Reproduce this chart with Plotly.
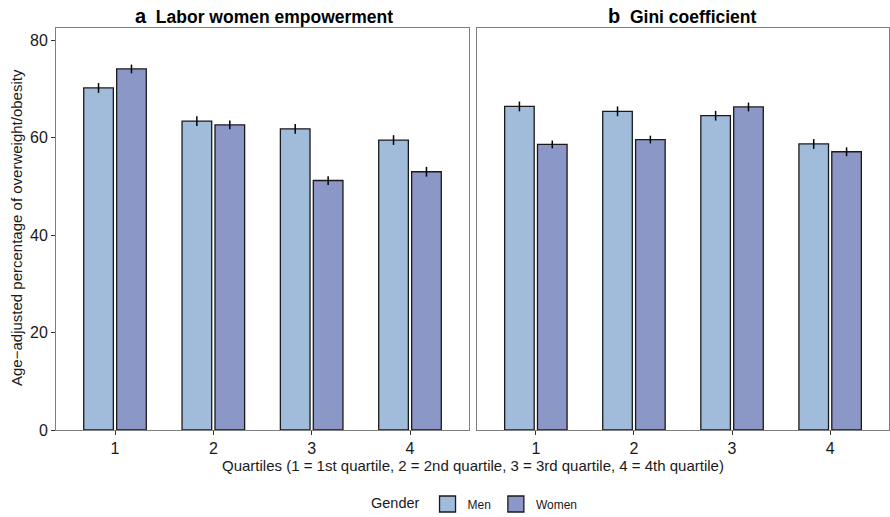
import plotly.graph_objects as go

quartiles = ["1", "2", "3", "4"]
labor_men = [70.2, 63.4, 61.8, 59.5]
labor_women = [74.1, 62.6, 51.2, 53.0]
labor_men_err = [1.0, 1.0, 1.0, 1.0]
labor_women_err = [0.9, 0.9, 0.9, 1.0]
gini_men = [66.4, 65.4, 64.5, 58.7]
gini_women = [58.6, 59.6, 66.3, 57.1]
gini_men_err = [1.0, 1.0, 1.0, 1.0]
gini_women_err = [0.8, 0.8, 0.9, 0.9]

MEN_COLOR = "#A0BCDA"
WOMEN_COLOR = "#8B97C7"
OUTLINE = "#1a1a1a"
W, H = 890, 517
ML, MR, MT, MB = 56, 1, 28, 87
PW = W - ML - MR
PH = H - MT - MB

def px_x(p):
    return (p - ML) / PW

def px_y(p):
    return (H - MB - p) / PH

fig = go.Figure()

def add_bars(xaxis, yaxis, men, women, men_err, women_err):
    for name, vals, err, col in [("Men", men, men_err, MEN_COLOR),
                                 ("Women", women, women_err, WOMEN_COLOR)]:
        fig.add_trace(go.Bar(
            x=[int(q) for q in quartiles], y=vals, name=name,
            marker=dict(color=col, line=dict(color=OUTLINE, width=1.3)),
            error_y=dict(type="data", array=err, visible=True, color="#000000",
                         thickness=1.5, width=0),
            xaxis=xaxis, yaxis=yaxis, showlegend=False, legendgroup=name,
        ))

add_bars("x", "y", labor_men, labor_women, labor_men_err, labor_women_err)
add_bars("x2", "y2", gini_men, gini_women, gini_men_err, gini_women_err)

# legend keys (large square boxes like the reference legend)
for name, col in [("Men", MEN_COLOR), ("Women", WOMEN_COLOR)]:
    fig.add_trace(go.Scatter(
        x=[None], y=[None], mode="markers", name=name, legendgroup=name,
        marker=dict(symbol="square", size=22, color=col,
                    line=dict(color=OUTLINE, width=1.3)),
        xaxis="x", yaxis="y", showlegend=True,
    ))

tickfont = dict(family="Liberation Sans, Arial", size=16, color="#1a1a1a")
common_x = dict(range=[0.4, 4.6], tickvals=[1, 2, 3, 4], ticktext=quartiles,
                showline=True, linecolor="#7f7f7f", linewidth=1, mirror=True,
                ticks="outside", ticklen=4, tickcolor="#333333",
                tickfont=tickfont, showgrid=False, zeroline=False)
common_y = dict(range=[0, 82.5], showline=True, linecolor="#7f7f7f", linewidth=1,
                mirror=True, showgrid=False, zeroline=False, domain=[0, 1])

fig.update_layout(
    width=W, height=H,
    margin=dict(l=ML, r=MR, t=MT, b=MB, autoexpand=False),
    plot_bgcolor="white", paper_bgcolor="white",
    barmode="group", bargap=0.33, bargroupgap=0.1,
    font=dict(family="Liberation Sans, Arial", color="#1a1a1a"),
    xaxis=dict(common_x, domain=[px_x(56), px_x(469)], anchor="y"),
    xaxis2=dict(common_x, domain=[px_x(477), px_x(889)], anchor="y2"),
    yaxis=dict(common_y, anchor="x", tickvals=[0, 20, 40, 60, 80],
               ticks="outside", ticklen=4, tickcolor="#333333", tickfont=tickfont),
    yaxis2=dict(common_y, anchor="x2", showticklabels=False, ticks=""),
    legend=dict(orientation="h", x=px_x(476), xanchor="center", y=px_y(504), yanchor="middle",
                title=dict(text="Gender", font=dict(size=14.5, color="#1a1a1a")),
                font=dict(size=12, color="#1a1a1a"), itemsizing="trace",
                traceorder="normal", itemwidth=30),
    annotations=[
        dict(text="<b><span style='font-size:20px'>a</span>  Labor women empowerment</b>",
             x=px_x(264), y=px_y(16), xref="paper", yref="paper",
             xanchor="center", yanchor="middle",
             showarrow=False, font=dict(size=17.5, color="#000000")),
        dict(text="<b><span style='font-size:20px'>b</span>  Gini coefficient</b>",
             x=px_x(682), y=px_y(16), xref="paper", yref="paper",
             xanchor="center", yanchor="middle",
             showarrow=False, font=dict(size=17.5, color="#000000")),
        dict(text="Age\u2212adjusted percentage of overweight/obesity",
             x=px_x(17), y=px_y(228), xref="paper", yref="paper", textangle=-90,
             xanchor="center", yanchor="middle",
             showarrow=False, font=dict(size=15, color="#1a1a1a")),
        dict(text="Quartiles (1 = 1st quartile, 2 = 2nd quartile, 3 = 3rd quartile, 4 = 4th quartile)",
             x=px_x(473), y=px_y(465), xref="paper", yref="paper",
             xanchor="center", yanchor="middle",
             showarrow=False, font=dict(size=15, color="#1a1a1a")),
    ],
)

fig.write_html("out.html", config={"displayModeBar": False},
               post_script="document.body.style.margin='0';")
